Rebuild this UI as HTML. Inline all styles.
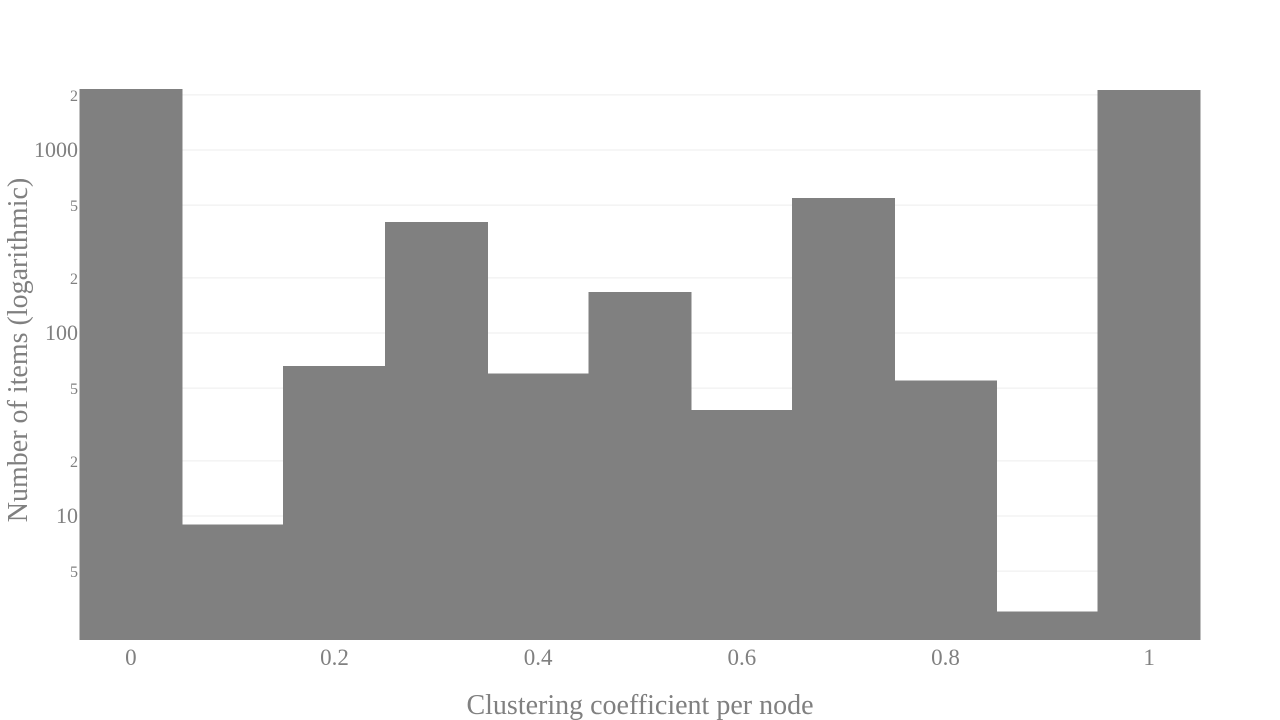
<!DOCTYPE html>
<html><head><meta charset="utf-8"><style>
body{margin:0;background:#fff;}
svg{display:block;font-family:"Liberation Serif",serif;}
</style></head><body>
<svg id="chart" width="1280" height="720"></svg>
<script>
const binCenters=[0,0.1,0.2,0.3,0.4,0.5,0.6,0.7,0.8,0.9,1];
const counts=[2150,9,66,404,60,168,38,547,55,3,2130];
const xTickValues=[0,0.2,0.4,0.6,0.8,1];
const xTickLabels=["0","0.2","0.4","0.6","0.8","1"];
const yTickValues=[2000,1000,500,200,100,50,20,10,5];
const yTickLabels=["2","1000","5","2","100","5","2","10","5"];
const binWidth=0.1;

const NS="http://www.w3.org/2000/svg";
const svg=document.getElementById('chart');
const X0=80,X1=1200;
function xs(v){return X0+(v+0.05)/1.1*(X1-X0);}
const DEC=183, Y1000=150, YB=640;
function ys(v){return Y1000-(Math.log10(v)-3)*DEC;}
function mk(t,a){const e=document.createElementNS(NS,t);for(const k in a)e.setAttribute(k,a[k]);svg.appendChild(e);return e;}

yTickValues.forEach((v,i)=>{
  const y=ys(v);
  const g=mk('line',{x1:X0,x2:X1,y1:y,y2:y,stroke:'#eeeeee','stroke-width':1});
  
  
  const major=yTickLabels[i].length>1;
  const t=mk('text',{x:78,y:y+(major?7:6),'text-anchor':'end',fill:'#808080','font-size':major?22:16});
  t.textContent=yTickLabels[i];
  
  
});

binCenters.forEach((c,i)=>{
  const xa=xs(c-binWidth/2),xb=xs(c+binWidth/2),y=ys(counts[i]);
  const r=mk('rect',{x:xa-0.5,y:y,width:xb-xa+1,height:YB-y,fill:'#808080','shape-rendering':'crispEdges'});
  
  
});

xTickValues.forEach((v,i)=>{
  const t=mk('text',{x:xs(v),y:665,'text-anchor':'middle',fill:'#808080','font-size':23});
  t.textContent=xTickLabels[i];
  
  
});

const xt=mk('text',{x:640,y:714,'text-anchor':'middle',fill:'#808080','font-size':28});
xt.textContent='Clustering coefficient per node';



const yt=mk('text',{x:0,y:0,'text-anchor':'middle',fill:'#808080','font-size':28,transform:'translate(27,350) rotate(-90)'});
yt.textContent='Number of items (logarithmic)';


</script>
</body></html>
